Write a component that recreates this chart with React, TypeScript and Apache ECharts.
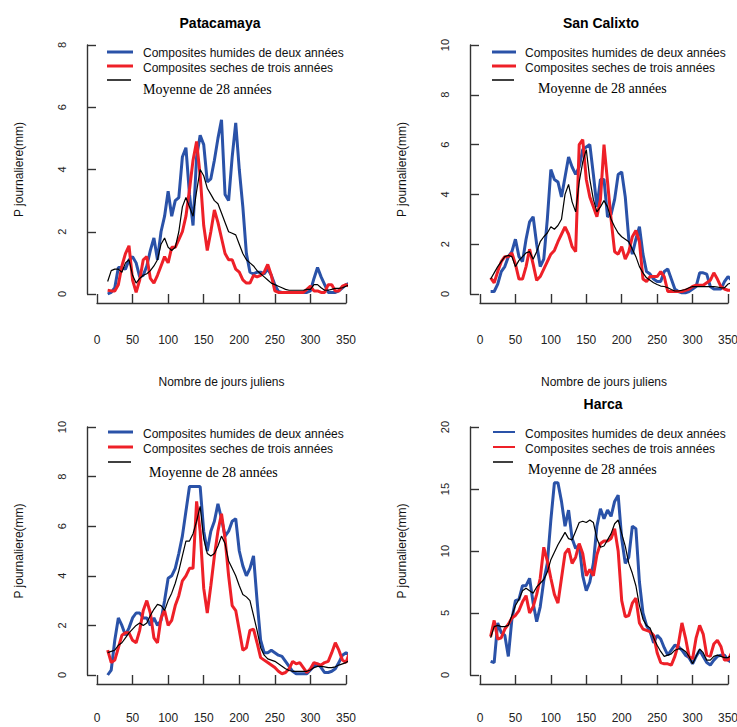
import React, { useEffect, useRef } from "react";
import * as echarts from "echarts";

// Julian days (every 5 days)
const days = [
  15, 20, 25, 30, 35, 40, 45, 50, 55, 60,
  65, 70, 75, 80, 85, 90, 95, 100, 105, 110,
  115, 120, 125, 130, 135, 140, 145, 150, 155, 160,
  165, 170, 175, 180, 185, 190, 195, 200, 205, 210,
  215, 220, 225, 230, 235, 240, 245, 250, 255, 260,
  265, 270, 275, 280, 285, 290, 295, 300, 305, 310,
  315, 320, 325, 330, 335, 340, 345, 350, 355, 360,
  365,
];

const xTicks = [0, 50, 100, 150, 200, 250, 300, 350];

const seriesNames = [
  "Composites humides de deux années",
  "Composites seches de trois années",
  "Moyenne de 28 années",
];

const stationTitles = ["Patacamaya", "San Calixto", "", "Harca"];
const yMaxes = [8, 10, 10, 20];
const yIntervals = [2, 2, 2, 5];
const xAxisTitle = "Nombre de jours juliens";
const yAxisTitle = "P journaliere(mm)";

// Patacamaya
const pataHumides = [
  0.0, 0.05, 0.2, 0.85, 0.85, 0.8, 1.1, 1.2, 1.0, 0.55,
  0.6, 0.9, 1.4, 1.8, 1.1, 2.0, 2.5, 3.3, 2.5, 3.0,
  3.1, 4.4, 4.7, 3.2, 2.2, 4.4, 5.1, 4.8, 3.6, 3.7,
  4.3, 5.0, 5.6, 3.2, 3.0, 4.4, 5.5, 4.0, 2.8, 1.3,
  0.7, 0.65, 0.7, 0.7, 0.65, 0.8, 0.6, 0.3, 0.08, 0.05,
  0.05, 0.05, 0.05, 0.05, 0.05, 0.05, 0.05, 0.1, 0.5, 0.85,
  0.55, 0.3, 0.05, 0.05, 0.05, 0.1, 0.2, 0.3, 0.35, 0.35,
  0.25,
];
const pataSeches = [
  0.12, 0.1, 0.1, 0.3, 0.9, 1.3, 1.55, 0.45, 0.05, 0.45,
  1.1, 1.2, 0.5, 0.35, 0.6, 0.9, 1.2, 1.0, 1.5, 1.5,
  1.75, 2.0, 2.5, 3.35, 4.3, 4.9, 3.8, 2.2, 1.4, 2.0,
  2.7, 2.3, 1.8, 1.3, 1.1, 1.1, 0.8, 0.7, 0.45, 0.35,
  0.35, 0.6, 0.55, 0.6, 0.7, 0.95, 0.6, 0.1, 0.05, 0.05,
  0.05, 0.05, 0.05, 0.05, 0.05, 0.05, 0.15, 0.25, 0.1, 0.1,
  0.05, 0.05, 0.3, 0.3, 0.1, 0.1, 0.25, 0.3, 0.25, 0.25,
  0.25,
];
const pataMoyenne = [
  0.4, 0.75, 0.8, 0.8, 0.7, 1.0, 1.1, 0.6, 0.35, 0.5,
  0.6, 0.65, 0.75, 0.9, 1.1, 1.6, 1.8, 1.5, 1.4, 1.5,
  2.0, 2.8, 3.1, 2.8, 2.5, 3.3, 4.0, 3.8, 3.4, 3.2,
  3.0, 2.9, 2.6, 2.3, 2.0, 1.95, 1.9, 1.6, 1.3, 1.1,
  1.0, 0.9, 0.75, 0.65, 0.55, 0.45, 0.35, 0.3, 0.25, 0.2,
  0.15, 0.12, 0.12, 0.12, 0.12, 0.12, 0.15, 0.15, 0.3, 0.3,
  0.2, 0.12, 0.12, 0.15, 0.18, 0.18, 0.2, 0.25, 0.3, 0.3,
  0.25,
];

// San Calixto
const scHumides = [
  0.1, 0.1, 0.4, 0.9, 1.1, 1.5, 1.7, 2.2, 1.5, 1.3,
  2.2, 2.9, 3.1, 2.0, 1.1, 1.4, 3.0, 5.0, 4.6, 4.5,
  3.9, 4.7, 5.5, 5.1, 4.8, 5.1, 5.8, 5.9, 6.0, 4.8,
  3.5, 4.6, 4.6, 3.1, 3.2, 3.8, 4.8, 4.9, 3.9, 2.2,
  1.6, 2.2, 2.7, 1.6, 0.9, 0.8, 0.6, 0.5, 0.5, 0.9,
  1.0, 0.6, 0.2, 0.1, 0.05, 0.05, 0.1, 0.2, 0.3, 0.85,
  0.85, 0.8, 0.3, 0.2, 0.2, 0.2, 0.5, 0.7, 0.55, 0.4,
  0.2,
];
const scSeches = [
  0.65, 0.45, 0.9, 1.3, 1.5, 1.5, 1.65, 1.2, 0.6, 0.6,
  1.1, 1.8, 1.2, 0.55, 0.7, 1.0, 1.3, 1.6, 1.75, 2.1,
  2.4, 2.7, 2.4, 1.9, 1.7, 6.0, 6.2, 4.6, 3.9, 3.5,
  3.1, 3.8, 6.0, 4.5, 3.0, 1.7, 1.6, 1.9, 1.4, 1.7,
  2.3, 2.55, 2.1, 0.6, 0.5, 0.7, 0.7, 0.7, 0.9, 0.7,
  0.1, 0.1, 0.1, 0.1, 0.1, 0.15, 0.2, 0.3, 0.35, 0.35,
  0.35, 0.45, 0.55, 0.85, 0.6, 0.3, 0.2, 0.15, 0.15, 0.15,
  0.3,
];
const scMoyenne = [
  0.6, 0.85, 1.1, 1.3, 1.5, 1.55, 1.5, 1.1, 1.35, 1.5,
  1.65, 1.7, 1.4, 1.7, 2.1, 2.3, 2.45, 2.7, 2.6, 2.75,
  3.0, 4.0, 4.4, 3.7, 3.3, 4.5, 5.3, 5.8, 4.6, 3.8,
  3.3, 3.5, 3.75, 3.5, 3.0, 2.7, 2.45, 2.3, 2.2, 2.1,
  1.8, 1.5, 1.1, 0.85, 0.65, 0.55, 0.45, 0.38, 0.32, 0.3,
  0.25, 0.18, 0.12, 0.12, 0.15, 0.18, 0.25, 0.3, 0.3, 0.3,
  0.3, 0.3, 0.3, 0.3, 0.28, 0.25, 0.25, 0.4, 0.45, 0.4,
  0.35,
];

// Third station (bottom left)
const s3Humides = [
  0.0, 0.2, 1.4, 2.3, 2.0, 1.6, 1.9, 2.3, 2.5, 2.5,
  2.3, 2.3, 2.0, 2.3, 2.0, 2.2, 3.0, 3.9, 4.0, 4.3,
  4.9, 5.6, 6.6, 7.6, 7.6, 7.6, 7.6, 5.8, 5.0, 5.8,
  6.2, 6.9, 6.3, 5.6, 5.8, 6.2, 6.3, 5.0, 4.4, 4.0,
  4.3, 4.8, 3.0, 1.4, 0.9, 0.9, 1.0, 0.9, 0.8, 0.75,
  0.55, 0.35, 0.15, 0.05, 0.05, 0.05, 0.05, 0.2, 0.35, 0.45,
  0.3, 0.1, 0.1, 0.15, 0.25, 0.5, 0.8, 0.9, 0.8, 0.7,
  0.45,
];
const s3Seches = [
  1.0, 0.5, 0.6, 1.1, 1.6, 1.7, 1.7, 1.4, 1.3, 1.8,
  2.6, 3.0, 2.5, 1.5, 1.3, 2.3, 2.6, 2.0, 2.2, 2.8,
  3.2, 3.8, 4.0, 4.3, 4.3, 7.0, 5.8, 3.5, 2.5, 3.6,
  4.8, 5.8, 6.5, 5.5, 4.0, 2.8, 2.6, 1.8, 1.0, 1.1,
  1.8, 1.85, 1.3, 0.7, 0.6, 0.5, 0.4, 0.3, 0.15, 0.05,
  0.1, 0.25, 0.55, 0.45, 0.5, 0.3, 0.1, 0.25, 0.5, 0.45,
  0.4, 0.5, 0.55, 0.9, 1.3, 1.0, 0.6, 0.5, 0.9, 1.05,
  1.3,
];
const s3Moyenne = [
  0.9, 0.95, 1.0, 1.2, 1.3, 1.5, 1.7, 1.85, 2.0, 2.1,
  2.0, 2.1, 2.4, 2.65, 2.85, 2.8, 2.6, 3.0, 3.3, 3.7,
  4.2, 4.8, 5.4, 5.4, 5.7, 6.2, 6.8, 5.5, 4.9, 4.8,
  4.9, 5.2, 5.6, 5.3, 4.6, 4.3, 4.0, 3.6, 3.25, 3.15,
  3.0, 2.4, 1.8, 1.1, 0.8, 0.65, 0.6, 0.55, 0.45, 0.35,
  0.25, 0.18, 0.15, 0.15, 0.15, 0.15, 0.15, 0.2, 0.3, 0.35,
  0.35, 0.33, 0.3, 0.3, 0.33, 0.4, 0.45, 0.5, 0.6, 0.7,
  0.6,
];

// Harca
const harcaHumides = [
  1.1, 1.0, 4.2, 3.4, 3.2, 1.5, 4.5, 6.0, 6.1, 7.2,
  7.2, 7.8, 5.8, 4.3, 5.5, 7.6, 9.0, 12.5, 15.5, 15.5,
  14.0, 12.0, 13.3, 11.0, 10.2, 10.5, 8.0, 6.8, 7.5, 9.0,
  12.0, 13.4, 12.6, 13.3, 12.8, 14.0, 14.5, 11.0, 9.0, 9.5,
  12.0, 11.8, 7.5, 5.0, 4.0, 3.5, 2.6, 3.2, 2.9, 2.2,
  1.6, 2.0, 2.4, 2.3, 2.0, 1.6, 1.4, 0.9, 1.5, 2.0,
  1.5, 1.0, 0.8, 1.2, 1.5, 1.6, 1.6, 1.2, 1.0, 1.6,
  2.2,
];
const harcaSeches = [
  3.1, 4.4, 2.9, 3.0, 3.7, 4.1, 4.6, 4.8, 5.2, 5.9,
  6.4, 5.0, 5.5, 6.5, 7.8, 10.3, 9.2, 7.8, 6.5, 5.8,
  7.8, 9.8, 10.2, 9.0, 9.5, 10.6, 9.8, 8.0, 8.5, 8.0,
  9.7, 10.6, 10.8, 10.8, 11.0, 11.8, 10.0, 6.0, 4.7, 4.8,
  5.8, 6.2, 4.2, 3.7, 3.6, 3.5, 3.2, 1.8, 1.0, 0.9,
  0.9, 0.8, 1.5, 2.5, 4.2, 3.0, 1.5, 1.3, 3.0, 4.0,
  3.3, 1.6, 1.5, 2.5, 2.8, 2.3, 1.2, 1.2, 1.8, 1.8,
  2.0,
];
const harcaMoyenne = [
  3.0, 3.9, 4.0, 3.9, 3.9, 4.0, 4.8, 5.6, 6.1, 6.8,
  7.0, 6.8, 6.6, 7.1, 7.4, 7.7, 8.3, 9.3, 9.9, 10.5,
  11.0, 11.5, 11.0, 10.9, 11.6, 12.3, 12.4, 12.3, 12.5, 12.3,
  11.0, 10.3, 10.4, 10.9, 11.4, 12.2, 12.5, 11.4, 10.4, 9.0,
  8.2, 7.2, 5.6, 4.5, 4.0, 3.8, 3.0, 2.4, 1.9, 1.5,
  1.6, 1.7, 2.0, 2.1, 2.1, 1.9, 1.5, 0.9, 1.5, 2.1,
  1.8, 1.2, 1.2, 1.5, 1.6, 1.5, 1.4, 1.4, 1.6, 1.8,
  1.9,
];

const panelData = [
  [pataHumides, pataSeches, pataMoyenne],
  [scHumides, scSeches, scMoyenne],
  [s3Humides, s3Seches, s3Moyenne],
  [harcaHumides, harcaSeches, harcaMoyenne],
];

// ---------- layout (pixels) ----------
const layouts = [
  { left: 97, top: 45, width: 249, height: 249, showXName: true, labelMargin: 31,
    titleX: 220, titleY: 23, lx1: 107, lx2: 133, ly: [52, 66, 80], tx: 143, ty: [53, 68], mx: 143, my: 89, legendW: 3 },
  { left: 480, top: 45, width: 248, height: 249, showXName: true, labelMargin: 31,
    titleX: 601, titleY: 23, lx1: 492, lx2: 516, ly: [52, 66, 80], tx: 525, ty: [53, 68], mx: 538, my: 88, legendW: 3 },
  { left: 97, top: 427, width: 249, height: 248, showXName: false, labelMargin: 28,
    titleX: 220, titleY: 404, lx1: 108, lx2: 133, ly: [432, 447, 462], tx: 143, ty: [434, 449], mx: 149, my: 472, legendW: 3 },
  { left: 480, top: 427, width: 248, height: 248, showXName: false, labelMargin: 28,
    titleX: 603, titleY: 404, lx1: 493, lx2: 515, ly: [432, 447, 462], tx: 525, ty: [434, 449], mx: 528, my: 469, legendW: 2 },
];

const BLUE = "#2a52a8";
const RED = "#ee2028";
const BLACK = "#000000";
const AXIS = "#333333";
const SANS = '"Liberation Sans", Arial, sans-serif';
const SERIF = '"Liberation Serif", "Times New Roman", serif';

function buildOption() {
  const grid: any[] = [];
  const xAxis: any[] = [];
  const yAxis: any[] = [];
  const series: any[] = [];
  const graphic: any[] = [];

  layouts.forEach((L, i) => {
    grid.push({
      left: L.left, top: L.top, width: L.width, height: L.height,
      containLabel: false, outerBoundsMode: "none",
    });
    xAxis.push({
      type: "value", gridIndex: i, min: xTicks[0], max: xTicks[xTicks.length - 1], interval: 50,
      offset: 9,
      splitLine: { show: false },
      axisLine: { show: true, onZero: false, lineStyle: { color: AXIS, width: 1.4 } },
      axisTick: { show: true, inside: true, length: 9, lineStyle: { color: AXIS, width: 1.4 } },
      axisLabel: { show: true, margin: L.labelMargin, fontSize: 12, color: "#222", fontFamily: SANS },
      name: L.showXName ? xAxisTitle : "",
      nameLocation: "middle", nameGap: 73,
      nameTextStyle: { fontSize: 12, color: "#111", fontFamily: SANS },
    });
    yAxis.push({
      type: "value", gridIndex: i, min: 0, max: yMaxes[i], interval: yIntervals[i],
      offset: 10,
      splitLine: { show: false },
      axisLine: { show: true, onZero: false, lineStyle: { color: AXIS, width: 1.4 } },
      axisTick: { show: true, inside: true, length: 9, lineStyle: { color: AXIS, width: 1.4 } },
      axisLabel: { show: true, rotate: 90, margin: 20, fontSize: 11, color: "#222", fontFamily: SANS },
      name: yAxisTitle,
      nameLocation: "middle", nameGap: 62, nameRotate: 90,
      nameTextStyle: { fontSize: 12, color: "#111", fontFamily: SANS },
    });

    const colors = [BLUE, RED, BLACK];
    const widths = [3, 3, 1.2];
    panelData[i].forEach((vals, k) => {
      series.push({
        type: "line",
        name: seriesNames[k],
        xAxisIndex: i, yAxisIndex: i,
        data: days.map((d, j) => [d, vals[j]]),
        showSymbol: false, symbol: "none",
        clip: false,
        lineStyle: { color: colors[k], width: widths[k] },
        itemStyle: { color: colors[k] },
        z: 2 + k,
      });
    });

    if (stationTitles[i]) {
      graphic.push({
        type: "text", x: L.titleX, y: L.titleY,
        style: {
          text: stationTitles[i], fill: "#000", font: `bold 14px ${SANS}`,
          textAlign: "center", textVerticalAlign: "middle", align: "center", verticalAlign: "middle",
        },
      });
    }
    // legend
    const lcol = [BLUE, RED, BLACK];
    const lw = [L.legendW, L.legendW, 1.5];
    for (let k = 0; k < 3; k++) {
      graphic.push({
        type: "line",
        shape: { x1: L.lx1, y1: L.ly[k], x2: k === 2 ? L.lx2 - 2 : L.lx2, y2: L.ly[k] },
        style: { stroke: lcol[k], lineWidth: lw[k] },
      });
    }
    for (let k = 0; k < 2; k++) {
      graphic.push({
        type: "text", x: L.tx, y: L.ty[k],
        style: {
          text: seriesNames[k], fill: "#111", font: `12px ${SANS}`,
          textAlign: "left", textVerticalAlign: "middle", align: "left", verticalAlign: "middle",
        },
      });
    }
    graphic.push({
      type: "text", x: L.mx, y: L.my,
      style: {
        text: seriesNames[2], fill: "#000", font: `14px ${SERIF}`,
        textAlign: "left", textVerticalAlign: "middle", align: "left", verticalAlign: "middle",
      },
    });
  });

  return {
    animation: false,
    backgroundColor: "#ffffff",
    textStyle: { fontFamily: SANS },
    grid, xAxis, yAxis, series, graphic,
  };
}

export default function App() {
  const ref = useRef<HTMLDivElement>(null);
  useEffect(() => {
    if (!ref.current) return;
    const chart = echarts.init(ref.current, undefined, { renderer: "svg" });
    chart.setOption(buildOption() as any);
    return () => chart.dispose();
  }, []);
  return (
    <div
      ref={ref}
      style={{ position: "absolute", left: 0, top: 0, width: 737, height: 727, background: "#fff" }}
    />
  );
}
